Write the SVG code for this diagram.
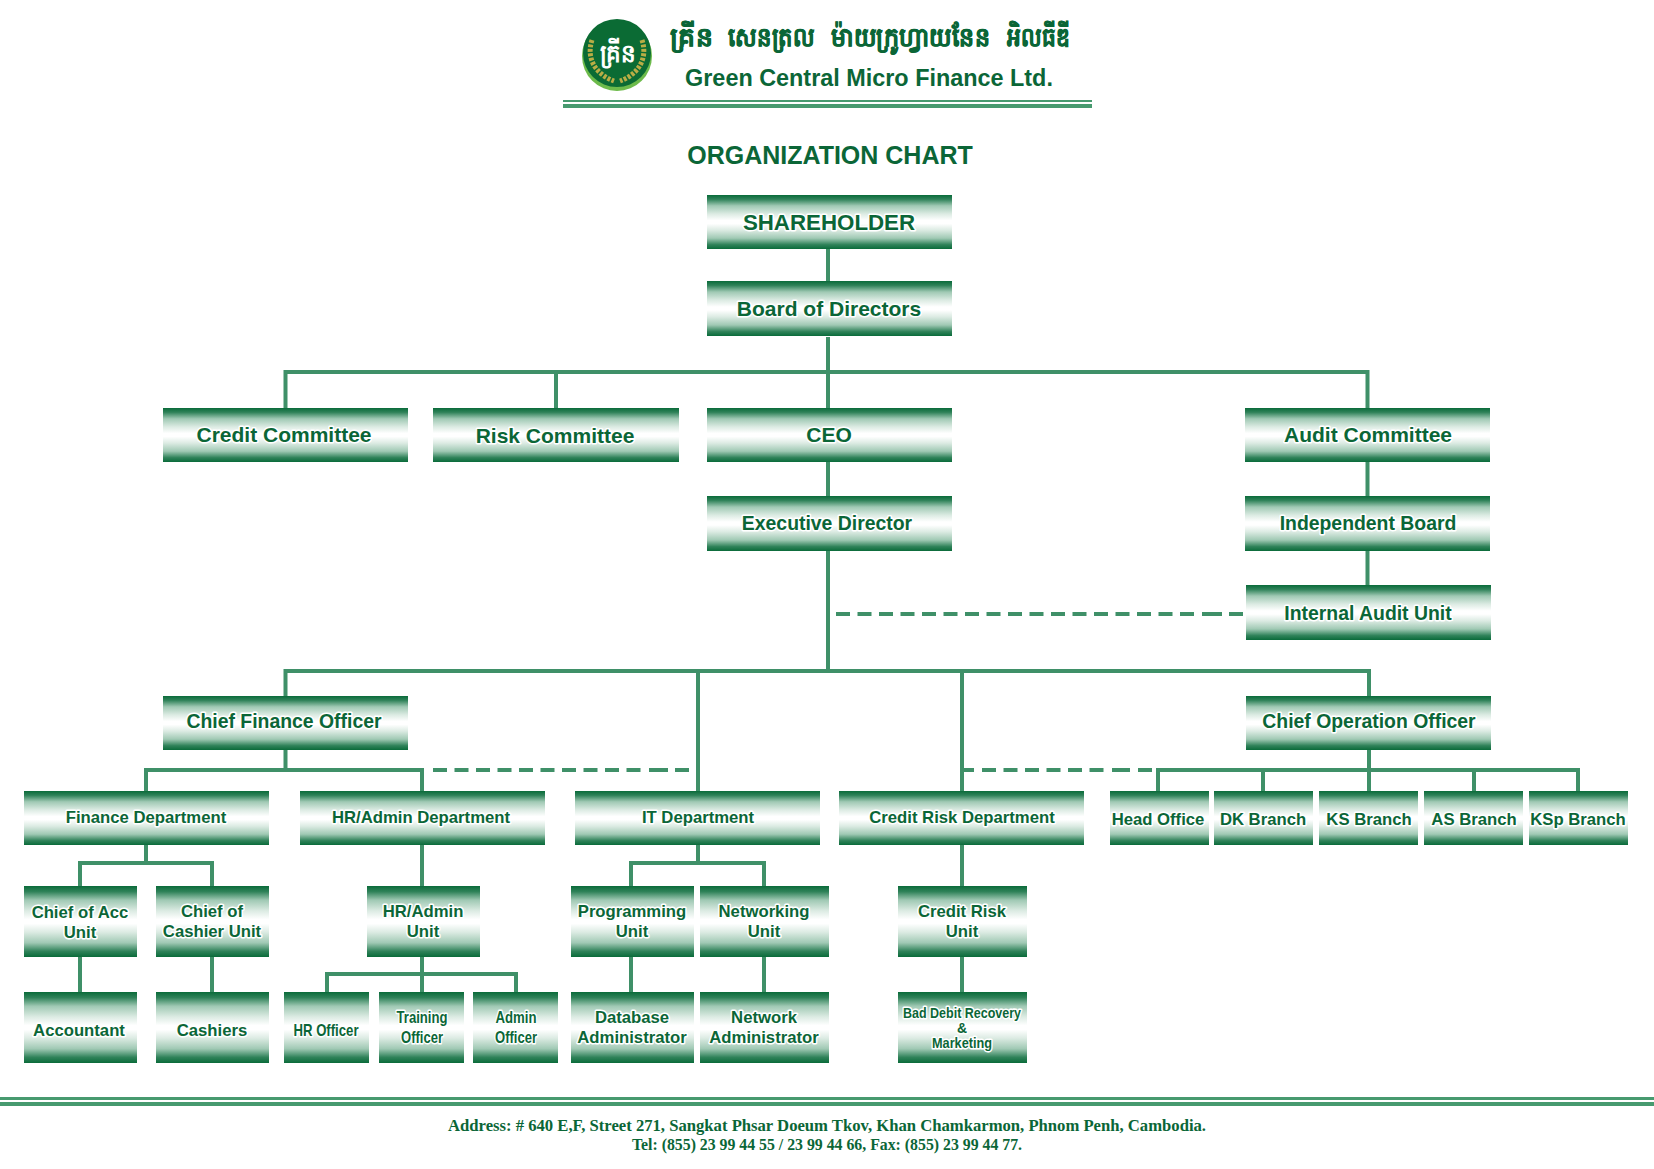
<svg xmlns="http://www.w3.org/2000/svg" width="1654" height="1169" viewBox="0 0 1654 1169">
<style>
.b{fill:url(#g)}
.t{font-family:"Liberation Sans",Arial,sans-serif;font-weight:700;fill:#0b6637;text-anchor:middle;paint-order:stroke;stroke:#fff;stroke-width:3px;stroke-linejoin:round}
.c{fill:none;stroke:#3f9068;stroke-width:4}
.d{fill:none;stroke:#3f9068;stroke-width:4;stroke-dasharray:14 7.5}
.r{fill:#479a6f}
.f{font-family:"Liberation Serif",serif;font-weight:700;font-size:17px;fill:#0b6637;text-anchor:middle}
.k{font-family:"Noto Sans","DejaVu Sans",sans-serif;font-size:26px;font-weight:700;fill:#0b6637;stroke:#0b6637;stroke-width:.5px}
.s{font-size:16.7px}.m{font-size:19.4px}.l{font-size:21px}
</style>
<defs><linearGradient id="g" x1="0" y1="0" x2="0" y2="1">
<stop offset="0" stop-color="#0a6b3a"/><stop offset=".08" stop-color="#2f8259"/><stop offset=".2" stop-color="#a0c9b4"/><stop offset=".35" stop-color="#dcebe3"/><stop offset=".47" stop-color="#fff"/><stop offset=".53" stop-color="#fff"/><stop offset=".65" stop-color="#dcebe3"/><stop offset=".8" stop-color="#a0c9b4"/><stop offset=".92" stop-color="#2f8259"/><stop offset="1" stop-color="#0a6b3a"/>
</linearGradient></defs>
<rect width="1654" height="1169" fill="#fff"/>
<g id="header">
<circle cx="617" cy="56" r="35" fill="#6dbb4b"/><circle cx="617" cy="53" r="34" fill="#0b6b34"/>
<path d="M592 40C586 58 595 74 614 81M642 40C648 58 639 74 620 81" fill="none" stroke="#b9ad45" stroke-width="5" stroke-dasharray="3 1.5"/>
<text x="618" y="62" font-family="'Noto Sans','DejaVu Sans',sans-serif" font-size="25" font-weight="700" fill="#fff" text-anchor="middle" textLength="36" lengthAdjust="spacingAndGlyphs">គ្រីន</text>
<text class="k" x="670" y="46" textLength="43" lengthAdjust="spacingAndGlyphs">គ្រីន</text>
<text class="k" x="728" y="46" textLength="87" lengthAdjust="spacingAndGlyphs">សេនត្រល</text>
<text class="k" x="831" y="46" textLength="159" lengthAdjust="spacingAndGlyphs">ម៉ាយក្រូហ្វាយនែន</text>
<text class="k" x="1007" y="46" textLength="63" lengthAdjust="spacingAndGlyphs">អិលធីឌី</text>
<text x="869" y="86" font-family="'Liberation Sans',sans-serif" font-size="23.4" font-weight="700" fill="#0b6637" text-anchor="middle">Green Central Micro Finance Ltd.</text>
<rect class="r" x="563" y="100" width="529" height="2"/><rect class="r" x="563" y="104" width="529" height="4"/>
<text x="830" y="164" font-family="'Liberation Sans',sans-serif" font-size="25" font-weight="700" fill="#0b6637" text-anchor="middle">ORGANIZATION CHART</text>
</g>
<g id="connectors">
<path class="c" d="M828 249V281M828 337V408M285.500 408V372H1367.500V408M556 372V408M828 462V496M1367.500 462V496M1367.500 551V585M828 551V671M285.500 696V671H1369V696M698 671V791M962 671V791"/>
<path class="d" d="M836 614H1195M433 770H641M982 770H1105"/>
<path class="c" d="M1202 614H1222M1229 614H1243M649 770H668M675 770H689M964 770H974M1112 770H1130M1138 770H1152"/>
<path class="c" d="M285.500 750V770M146 791V770H422V791M1369 750V791M1158 791V770H1578V791M1263 770V791M1474 770V791"/>
<path class="c" d="M146 845V863M80 886V863H212V886M422 845V886M698 845V863M631 886V863H764V886M962 845V886M80 957V992M212 957V992M422 957V974M327 992V974H516V992M422 974V992M631 957V992M764 957V992M962 957V992"/>
</g>
<g id="n1"><rect class="b" x="707" y="195" width="245" height="54"/><text class="t" x="829" y="230" font-size="22.3">SHAREHOLDER</text></g>
<g id="n2"><rect class="b" x="707" y="281" width="245" height="55"/><text class="t l" x="829" y="316">Board of Directors</text></g>
<g id="n3"><rect class="b" x="163" y="408" width="245" height="54"/><text class="t l" x="284" y="442">Credit Committee</text></g>
<g id="n4"><rect class="b" x="433" y="408" width="246" height="54"/><text class="t l" x="555" y="443">Risk Committee</text></g>
<g id="n5"><rect class="b" x="707" y="408" width="245" height="54"/><text class="t l" x="829" y="442">CEO</text></g>
<g id="n6"><rect class="b" x="1245" y="408" width="245" height="54"/><text class="t l" x="1368" y="442">Audit Committee</text></g>
<g id="n7"><rect class="b" x="707" y="496" width="245" height="55"/><text class="t m" x="827" y="530">Executive Director</text></g>
<g id="n8"><rect class="b" x="1245" y="496" width="245" height="55"/><text class="t m" x="1368" y="530">Independent Board</text></g>
<g id="n9"><rect class="b" x="1246" y="585" width="245" height="55"/><text class="t m" x="1368" y="620">Internal Audit Unit</text></g>
<g id="n10"><rect class="b" x="163" y="696" width="245" height="54"/><text class="t m" x="284" y="728">Chief Finance Officer</text></g>
<g id="n11"><rect class="b" x="1246" y="696" width="245" height="54"/><text class="t m" x="1369" y="728">Chief Operation Officer</text></g>
<g id="n12"><rect class="b" x="24" y="791" width="245" height="54"/><text class="t s" x="146" y="823">Finance Department</text></g>
<g id="n13"><rect class="b" x="300" y="791" width="245" height="54"/><text class="t s" x="421" y="823">HR/Admin Department</text></g>
<g id="n14"><rect class="b" x="575" y="791" width="245" height="54"/><text class="t s" x="698" y="823">IT Department</text></g>
<g id="n15"><rect class="b" x="839" y="791" width="245" height="54"/><text class="t s" x="962" y="823">Credit Risk Department</text></g>
<g id="n16"><rect class="b" x="1110" y="791" width="99" height="54"/><text class="t s" x="1158" y="825">Head Office</text></g>
<g id="n17"><rect class="b" x="1214" y="791" width="99" height="54"/><text class="t s" x="1263" y="825">DK Branch</text></g>
<g id="n18"><rect class="b" x="1319" y="791" width="99" height="54"/><text class="t s" x="1369" y="825">KS Branch</text></g>
<g id="n19"><rect class="b" x="1424" y="791" width="99" height="54"/><text class="t s" x="1474" y="825">AS Branch</text></g>
<g id="n20"><rect class="b" x="1529" y="791" width="99" height="54"/><text class="t s" x="1578" y="825">KSp Branch</text></g>
<g id="n21"><rect class="b" x="24" y="886" width="113" height="71"/><text class="t s" x="80" y="918">Chief of Acc</text><text class="t s" x="80" y="938">Unit</text></g>
<g id="n22"><rect class="b" x="156" y="886" width="113" height="71"/><text class="t s" x="212" y="917">Chief of</text><text class="t s" x="212" y="937">Cashier Unit</text></g>
<g id="n23"><rect class="b" x="367" y="886" width="113" height="71"/><text class="t s" x="423" y="917">HR/Admin</text><text class="t s" x="423" y="937">Unit</text></g>
<g id="n24"><rect class="b" x="571" y="886" width="123" height="71"/><text class="t s" x="632" y="917">Programming</text><text class="t s" x="632" y="937">Unit</text></g>
<g id="n25"><rect class="b" x="700" y="886" width="129" height="71"/><text class="t s" x="764" y="917">Networking</text><text class="t s" x="764" y="937">Unit</text></g>
<g id="n26"><rect class="b" x="898" y="886" width="129" height="71"/><text class="t s" x="962" y="917">Credit Risk</text><text class="t s" x="962" y="937">Unit</text></g>
<g id="n27"><rect class="b" x="24" y="992" width="113" height="71"/><text class="t s" x="79" y="1036">Accountant</text></g>
<g id="n28"><rect class="b" x="156" y="992" width="113" height="71"/><text class="t s" x="212" y="1036">Cashiers</text></g>
<g id="n29"><rect class="b" x="284" y="992" width="85" height="71"/><text class="t s" x="326" y="1036" textLength="65" lengthAdjust="spacingAndGlyphs">HR Officer</text></g>
<g id="n30"><rect class="b" x="379" y="992" width="85" height="71"/><text class="t s" x="422" y="1023" textLength="51" lengthAdjust="spacingAndGlyphs">Training</text><text class="t s" x="422" y="1043" textLength="42" lengthAdjust="spacingAndGlyphs">Officer</text></g>
<g id="n31"><rect class="b" x="473" y="992" width="85" height="71"/><text class="t s" x="516" y="1023" textLength="41" lengthAdjust="spacingAndGlyphs">Admin</text><text class="t s" x="516" y="1043" textLength="42" lengthAdjust="spacingAndGlyphs">Officer</text></g>
<g id="n32"><rect class="b" x="571" y="992" width="123" height="71"/><text class="t s" x="632" y="1023">Database</text><text class="t s" x="632" y="1043">Administrator</text></g>
<g id="n33"><rect class="b" x="700" y="992" width="129" height="71"/><text class="t s" x="764" y="1023">Network</text><text class="t s" x="764" y="1043">Administrator</text></g>
<g id="n34"><rect class="b" x="898" y="992" width="129" height="71"/><text class="t" font-size="14" x="962" y="1018" textLength="118" lengthAdjust="spacingAndGlyphs">Bad Debit Recovery</text><text class="t" font-size="14" x="962" y="1033">&amp;</text><text class="t" font-size="14" x="962" y="1048" textLength="60" lengthAdjust="spacingAndGlyphs">Marketing</text></g>
<g id="footer">
<rect class="r" x="0" y="1097" width="1654" height="3"/><rect class="r" x="0" y="1102" width="1654" height="4"/>
<text class="f" x="827" y="1131" textLength="758" lengthAdjust="spacingAndGlyphs">Address: # 640 E,F, Street 271, Sangkat Phsar Doeum Tkov, Khan Chamkarmon, Phnom Penh, Cambodia.</text>
<text class="f" x="827" y="1150" textLength="390" lengthAdjust="spacingAndGlyphs">Tel: (855) 23 99 44 55 / 23 99 44 66, Fax: (855) 23 99 44 77.</text>
</g>
</svg>
